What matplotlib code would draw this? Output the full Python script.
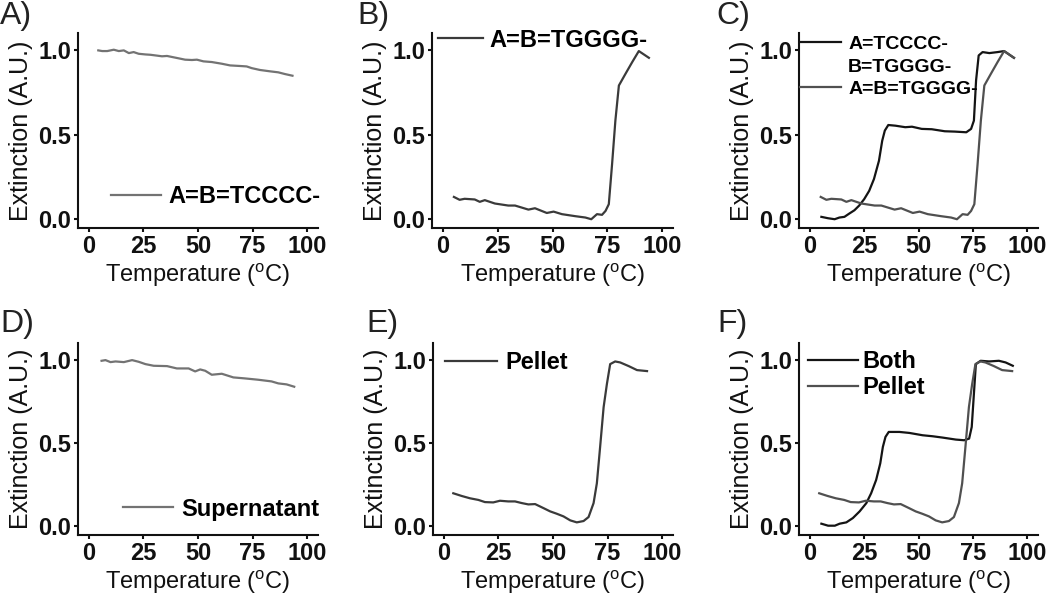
import matplotlib
matplotlib.use("Agg")
import matplotlib.pyplot as plt
from matplotlib.lines import Line2D

plt.rcParams['font.family'] = ['Liberation Sans', 'DejaVu Sans']
plt.rcParams['mathtext.fontset'] = 'custom'
plt.rcParams['mathtext.rm'] = 'Liberation Sans'

# ---------------- data ----------------
# Panel A: A=B=TCCCC-
a_temp = [4.3, 6.1, 8.4, 11.4, 13.7, 16.0, 18.3, 20.5, 22.8, 25.9, 28.2, 31.2, 33.5, 35.8,
          39.6, 44.1, 47.2, 49.5, 52.5, 56.3, 60.9, 64.7, 70.0, 72.3, 74.6, 78.4, 83.0,
          86.8, 89.8, 93.3]
a_ext = [1.000, 0.996, 0.996, 1.004, 0.996, 1.000, 0.984, 0.990, 0.980, 0.976, 0.974, 0.969,
         0.965, 0.967, 0.957, 0.945, 0.943, 0.945, 0.935, 0.931, 0.921, 0.911, 0.907, 0.905,
         0.895, 0.884, 0.876, 0.870, 0.860, 0.850]

# Panel B / C (grey): A=B=TGGGG-
g_temp = [5.0, 7.6, 9.9, 14.5, 16.8, 19.1, 23.7, 29.8, 32.9, 39.0, 42.0, 47.4, 50.5, 54.3,
          60.4, 65.0, 67.7, 70.3, 72.6, 74.2, 75.7, 77.2, 78.7, 80.3, 83.3, 86.4, 89.4, 94.0]
g_ext = [0.132, 0.115, 0.121, 0.117, 0.103, 0.113, 0.093, 0.081, 0.081, 0.057, 0.065, 0.037,
         0.045, 0.030, 0.018, 0.010, 0.000, 0.030, 0.026, 0.049, 0.089, 0.327, 0.584, 0.792,
         0.861, 0.931, 0.996, 0.956]

# Panel C (black): A=TCCCC- / B=TGGGG-
ab_temp = [5.3, 8.3, 11.4, 13.6, 15.9, 18.2, 20.5, 22.7, 25.0, 27.3, 29.5, 31.8, 33.3, 34.5,
           36.1, 39.4, 43.9, 47.0, 51.5, 56.1, 62.1, 66.7, 72.0, 74.2, 75.5, 76.5, 77.7,
           79.5, 82.6, 86.4, 89.4, 93.9]
ab_ext = [0.014, 0.006, 0.000, 0.010, 0.014, 0.034, 0.053, 0.081, 0.119, 0.168, 0.238, 0.346,
          0.465, 0.525, 0.558, 0.554, 0.545, 0.548, 0.535, 0.533, 0.521, 0.519, 0.515, 0.535,
          0.584, 0.822, 0.970, 0.990, 0.984, 0.990, 0.996, 0.956]

# Panel D: Supernatant
s_temp = [5.8, 7.6, 9.9, 12.2, 16.0, 19.8, 22.8, 25.9, 29.7, 35.8, 40.3, 45.7, 48.7, 51.0,
          53.3, 56.3, 60.9, 66.2, 71.5, 77.6, 83.7, 86.8, 90.6, 94.1]
s_ext = [0.996, 1.000, 0.988, 0.992, 0.988, 1.000, 0.990, 0.976, 0.966, 0.964, 0.950, 0.950,
         0.932, 0.944, 0.936, 0.912, 0.918, 0.896, 0.890, 0.882, 0.872, 0.860, 0.854, 0.840]

# Panel E / F (grey): Pellet
p_temp = [4.3, 8.1, 11.9, 15.8, 18.8, 22.6, 25.7, 29.5, 32.6, 35.7, 38.7, 41.8, 45.6, 48.7,
          51.7, 54.8, 57.9, 60.9, 64.0, 66.3, 68.6, 70.1, 71.6, 73.2, 74.7, 76.2, 78.5,
          80.8, 84.7, 88.5, 93.1]
p_ext = [0.199, 0.183, 0.169, 0.159, 0.146, 0.144, 0.154, 0.150, 0.150, 0.140, 0.132, 0.134,
         0.110, 0.090, 0.076, 0.060, 0.036, 0.024, 0.032, 0.056, 0.140, 0.259, 0.478, 0.717,
         0.856, 0.976, 0.992, 0.986, 0.964, 0.940, 0.934]

# Panel F (black): Both
b_temp = [5.3, 8.4, 11.5, 13.7, 16.8, 19.8, 22.9, 26.0, 28.2, 30.5, 32.4, 33.6, 34.8, 36.3,
          41.2, 45.8, 51.9, 56.5, 61.1, 67.2, 71.0, 73.3, 74.5, 75.6, 76.4, 78.6, 82.5,
          87.0, 90.1, 93.4]
b_ext = [0.016, 0.004, 0.004, 0.016, 0.024, 0.050, 0.090, 0.140, 0.199, 0.279, 0.379, 0.478,
         0.538, 0.568, 0.568, 0.562, 0.548, 0.542, 0.534, 0.522, 0.518, 0.528, 0.598, 0.817,
         0.976, 0.996, 0.992, 0.996, 0.986, 0.966]

x_ticks = [0, 25, 50, 75, 100]
y_ticks = [0.0, 0.5, 1.0]
panel_labels = ['A)', 'B)', 'C)', 'D)', 'E)', 'F)']
xlabel = 'Temperature ($^{\\mathrm{o}}$C)'
ylabel = 'Extinction (A.U.)'

# ---------------- figure ----------------
W, H = 1050, 601
fig = plt.figure(figsize=(W / 100, H / 100), dpi=100)


def px_axes(left, top, right, bottom):
    return fig.add_axes([left / W, 1 - bottom / H, (right - left) / W, (bottom - top) / H])


axA = px_axes(78, 33, 318, 228)
axB = px_axes(432, 33, 673, 228)
axC = px_axes(799, 33, 1038, 228)
axD = px_axes(78, 343, 318, 535)
axE = px_axes(433, 343, 673, 535)
axF = px_axes(799, 343, 1038, 535)

LW = 1.6
grey_light = '#737373'
grey_dark = '#3a3a3a'
grey_mid = '#505050'
black = '#141414'
ink = '#111111'

axA.plot(a_temp, a_ext, color=grey_light, lw=LW, label='A=B=TCCCC-')
axB.plot(g_temp, g_ext, color=grey_dark, lw=LW, label='A=B=TGGGG-')
axC.plot(ab_temp, ab_ext, color=black, lw=LW)
axC.plot(g_temp, g_ext, color=grey_mid, lw=LW)
axD.plot(s_temp, s_ext, color=grey_light, lw=LW, label='Supernatant')
axE.plot(p_temp, p_ext, color=grey_dark, lw=LW, label='Pellet')
axF.plot(b_temp, b_ext, color=black, lw=LW, label='Both')
axF.plot(p_temp, p_ext, color=grey_mid, lw=LW, label='Pellet')

for ax in [axA, axB, axC, axD, axE, axF]:
    ax.set_xlim(-5, 105)
    ax.set_ylim(-0.052, 1.103)
    ax.set_xticks(x_ticks)
    ax.set_yticks(y_ticks)
    ax.set_xticklabels([str(t) for t in x_ticks])
    ax.set_yticklabels(['%.1f' % t for t in y_ticks])
    for s in ['top', 'right']:
        ax.spines[s].set_visible(False)
    for s in ['left', 'bottom']:
        ax.spines[s].set_linewidth(1.5)
        ax.spines[s].set_color(ink)
    ax.tick_params(direction='out', length=3, width=1.5, color=ink,
                   labelsize=17, pad=2.0)
    for lab in ax.get_xticklabels() + ax.get_yticklabels():
        lab.set_fontweight('bold')
        lab.set_color(ink)
    ax.set_xlabel(xlabel, fontsize=17, labelpad=2.5, color=ink)
    ax.set_ylabel(ylabel, fontsize=18, labelpad=4, color=ink)
    ax.patch.set_alpha(0)

leg_common = dict(frameon=False, borderpad=0, borderaxespad=0, loc='center left')
LEGF = {'size': 17, 'weight': 'bold'}

axA.legend(bbox_to_anchor=(0.1375, 0.16), handlelength=2.1, handletextpad=0.34,
           prop=LEGF, **leg_common)
axB.legend(bbox_to_anchor=(0.025, 0.964), handlelength=1.9, handletextpad=0.26,
           prop=LEGF, **leg_common)
axD.legend(bbox_to_anchor=(0.1875, 0.135), handlelength=2.1, handletextpad=0.38,
           prop=LEGF, **leg_common)
axE.legend(bbox_to_anchor=(0.05, 0.897), handlelength=2.2, handletextpad=0.34,
           prop=LEGF, **leg_common)
axF.legend(bbox_to_anchor=(0.038, 0.836), handlelength=2.1, handletextpad=0.22,
           labelspacing=0.12, prop=LEGF, **leg_common)

c_handles = [Line2D([], [], color=black, lw=LW),
             Line2D([], [], color='none', lw=LW),
             Line2D([], [], color=grey_mid, lw=LW)]
c_labels = ['A=TCCCC-', 'B=TGGGG-', 'A=B=TGGGG-']
axC.legend(c_handles, c_labels, bbox_to_anchor=(0.004, 0.826), handlelength=2.1,
           handletextpad=0.38, labelspacing=0.25, prop={'size': 14, 'weight': 'bold'},
           **leg_common)

label_pos = [(0, 1), (357, 1), (716, 1), (0, 309), (366, 309), (717, 309)]
for lab, (px, py) in zip(panel_labels, label_pos):
    fig.text(px / W, 1 - py / H, lab, fontsize=23, ha='left', va='top', color='#222222')

fig.savefig('out.png', dpi=100, facecolor='white')
